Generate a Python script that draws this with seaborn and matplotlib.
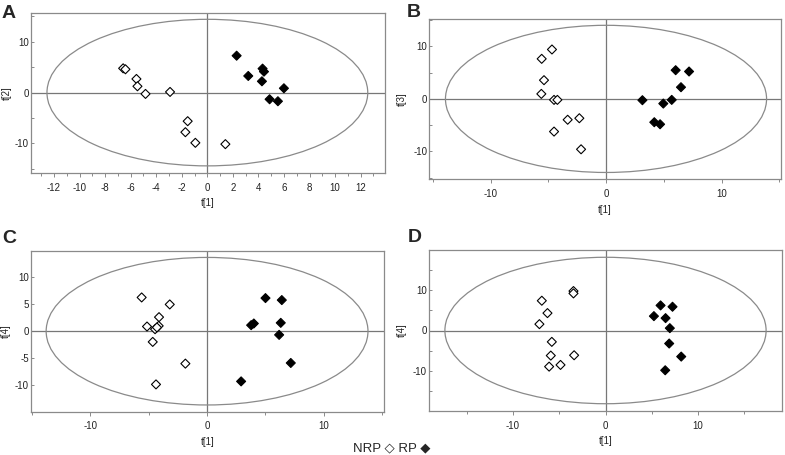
import numpy as np
import pandas as pd
import matplotlib
matplotlib.use('Agg')
import matplotlib.pyplot as plt
from matplotlib.patches import Ellipse
from matplotlib.ticker import MultipleLocator
import seaborn as sns

sns.set_style('white')
plt.rcParams['font.family'] = ['Liberation Sans', 'DejaVu Sans']
plt.rcParams['axes.unicode_minus'] = False

# score values (NRP = open, RP = filled)
a_nrp_x = [-6.59, -6.41, -5.55, -5.47, -4.84, -2.92, -1.54, -1.72, -0.94, 1.41]
a_nrp_y = [4.77, 4.58, 2.68, 1.24, -0.26, 0.13, -5.62, -7.78, -9.87, -10.13]
a_rp_x = [2.29, 3.20, 4.27, 4.32, 4.43, 5.99, 4.87, 5.52]
a_rp_y = [7.25, 3.27, 2.22, 4.71, 4.12, 0.85, -1.31, -1.70]

b_nrp_x = [-4.68, -5.57, -5.37, -5.60, -4.50, -4.21, -3.32, -2.31, -4.50, -2.16]
b_nrp_y = [9.40, 7.62, 3.56, 0.95, -0.19, -0.19, -3.97, -3.68, -6.22, -9.59]
b_rp_x = [3.15, 4.18, 4.68, 4.96, 5.69, 6.03, 6.49, 7.19]
b_rp_y = [-0.25, -4.44, -4.83, -0.89, -0.19, 5.46, 2.22, 5.21]

c_nrp_x = [-5.61, -3.20, -4.12, -5.15, -4.46, -4.15, -4.30, -4.66, -1.86, -4.38]
c_nrp_y = [6.27, 4.97, 2.61, 0.87, 0.37, 0.99, 0.70, -1.99, -6.02, -9.88]
c_rp_x = [5.01, 6.41, 3.78, 4.01, 6.32, 6.18, 7.18, 2.92]
c_rp_y = [6.15, 5.78, 1.12, 1.43, 1.55, -0.68, -5.90, -9.32]

d_nrp_x = [-6.88, -6.27, -7.14, -3.46, -3.46, -5.80, -5.91, -6.09, -4.86, -3.39]
d_nrp_y = [7.36, 4.30, 1.57, 9.75, 9.17, -2.81, -6.20, -8.93, -8.51, -6.12]
d_rp_x = [5.95, 7.24, 5.23, 6.49, 6.95, 6.88, 8.18, 6.45]
d_rp_y = [6.20, 5.87, 3.55, 3.06, 0.58, -3.22, -6.45, -9.83]

panel_letters = ['A', 'B', 'C', 'D']
y_names = ['t[2]', 't[3]', 't[4]', 't[4]']
# Hotelling T2 ellipse half-widths (x, y)
ellipse_a = [12.55, 13.9, 13.8, 17.35]
ellipse_b = [14.4, 14.0, 13.7, 18.1]

panels = [
    (a_nrp_x, a_nrp_y, a_rp_x, a_rp_y),
    (b_nrp_x, b_nrp_y, b_rp_x, b_rp_y),
    (c_nrp_x, c_nrp_y, c_rp_x, c_rp_y),
    (d_nrp_x, d_nrp_y, d_rp_x, d_rp_y),
]

W, H = 785, 455
fig = plt.figure(figsize=(W / 100, H / 100), dpi=100)

# axes boxes in pixels: left, top, right, bottom
boxes = [(31, 12.7, 385, 173), (429.3, 19, 781, 179.3),
         (31, 250.7, 384.3, 411.7), (428.7, 250, 782.3, 411)]
limits = [((-13.8, 13.9), (-15.8, 15.7)), ((-15.3, 15.15), (-15.3, 15.2)),
          ((-15.1, 15.2), (-14.95, 14.95)), ((-19.1, 19.1), (-19.9, 19.9))]
xmaj = [2, 10, 10, 10]
xmin = [1, 5, 5, 5]
ymaj = [10, 10, 5, 10]
ymin = [5, 5, 5, 5]
letter_pos = [(2, 18), (407, 17), (2, 243), (408, 242)]
ylabel_px = [7, 402, 6, 402]

frame_col = '#8a8a8a'
txt_col = '#222222'

for i, (nx, ny, rx, ry) in enumerate(panels):
    l, t, r, b = boxes[i]
    ax = fig.add_axes([l / W, 1 - b / H, (r - l) / W, (b - t) / H])
    df = pd.DataFrame({
        'x': nx + rx,
        'y': ny + ry,
        'group': ['NRP'] * len(nx) + ['RP'] * len(rx),
    })
    ax.axhline(0, color='#777777', lw=0.9, zorder=1)
    ax.axvline(0, color='#777777', lw=0.9, zorder=1)
    ax.add_patch(Ellipse((0, 0), 2 * ellipse_a[i], 2 * ellipse_b[i], fill=False,
                         edgecolor='#8a8a8a', lw=0.9, zorder=1))
    sns.scatterplot(data=df, x='x', y='y', hue='group',
                    palette={'NRP': 'white', 'RP': 'black'}, marker='D', s=21,
                    edgecolor='black', linewidth=0.8, legend=False, ax=ax, zorder=3)
    ax.set_xlim(*limits[i][0])
    ax.set_ylim(*limits[i][1])
    ax.xaxis.set_major_locator(MultipleLocator(xmaj[i]))
    ax.xaxis.set_minor_locator(MultipleLocator(xmin[i]))
    ax.yaxis.set_major_locator(MultipleLocator(ymaj[i]))
    ax.yaxis.set_minor_locator(MultipleLocator(ymin[i]))
    ax.tick_params(axis='x', which='both', direction='out', bottom=True,
                   colors=frame_col, labelcolor=txt_col, labelsize=7, width=0.7)
    ax.tick_params(axis='x', which='major', length=3, pad=4)
    ax.tick_params(axis='x', which='minor', length=2.5)
    ax.tick_params(axis='y', which='both', direction='in', left=True,
                   colors=frame_col, labelcolor=txt_col, labelsize=7, width=0.7,
                   length=2.5, pad=1.5)
    for s in ax.spines.values():
        s.set_color(frame_col)
        s.set_linewidth(0.9)
    ax.set_xlabel('t[1]', fontsize=7, color=txt_col, labelpad=4)
    ax.set_ylabel(y_names[i], fontsize=7, color=txt_col, va='center')
    ax.yaxis.set_label_coords((ylabel_px[i] - l) / (r - l), 0.5)
    lx, ly = letter_pos[i]
    fig.text(lx / W, 1 - ly / H, panel_letters[i], fontsize=14, fontweight='bold',
             ha='left', va='baseline')

fig.text(353 / W, 1 - 451 / H, 'NRP \u25c7 RP \u25c6', fontsize=9.5, ha='left',
         va='baseline', family=['Liberation Sans', 'DejaVu Sans'])

fig.savefig('out.png', dpi=100)
